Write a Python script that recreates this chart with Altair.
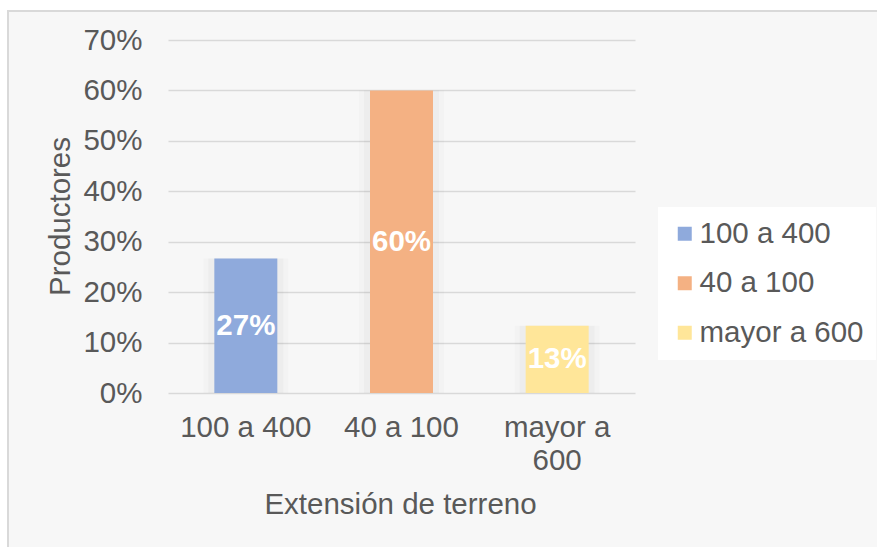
import altair as alt
import pandas as pd

categories = ["100 a 400", "40 a 100", "mayor a 600"]
values = [0.2667, 0.60, 0.1333]
bar_labels = ["27%", "60%", "13%"]
colors = ["#8FAADC", "#F4B183", "#FFE699"]

df = pd.DataFrame({"cat": categories, "val": values, "lab": bar_labels})

FONT = "Liberation Sans"
GRAY = "#595959"
FS = 29.5
W, H = 467, 353

one = pd.DataFrame({"a": [0]})
strip_top = alt.Chart(one).mark_rect(fill="#ffffff").encode(
    x=alt.value(-170), x2=alt.value(720), y=alt.value(-45), y2=alt.value(-29)
)
strip_left = alt.Chart(one).mark_rect(fill="#ffffff").encode(
    x=alt.value(-170), x2=alt.value(-160), y=alt.value(-45), y2=alt.value(520)
)
frame = alt.Chart(one).mark_rect(
    fill=None, stroke="#d9d9d9", strokeWidth=2
).encode(
    x=alt.value(-160), x2=alt.value(720), y=alt.value(-29), y2=alt.value(520)
)

xenc = alt.X(
    "cat:N", sort=categories,
    scale=alt.Scale(paddingInner=0, paddingOuter=0),
    axis=alt.Axis(
        title="Extensión de terreno", labelAngle=0, ticks=False, domain=False,
        labelFontSize=FS, labelColor=GRAY, labelFont=FONT, labelPadding=20,
        labelExpr="datum.label == 'mayor a 600' ? ['mayor a', '600'] : datum.label",
        labelLineHeight=33,
        titleFontSize=FS, titleColor=GRAY, titleFont=FONT, titleFontWeight="normal",
        titleX=232, titleY=111, titleBaseline="middle", titleAnchor="middle",
    ),
)

yenc = alt.Y(
    "val:Q",
    scale=alt.Scale(domain=[0, 0.7]),
    axis=alt.Axis(
        title="Productores", format=".0%", values=[0, 0.1, 0.2, 0.3, 0.4, 0.5, 0.6, 0.7],
        ticks=False, domain=False, gridColor="#d9d9d9", gridWidth=1.5,
        labelFontSize=FS, labelColor=GRAY, labelFont=FONT, labelPadding=26,
        titleFontSize=FS, titleColor=GRAY, titleFont=FONT, titleFontWeight="normal",
        titleX=-108, titleY=176, titleBaseline="middle", titleAnchor="middle", titleAngle=-90,
    ),
)

shadow1 = alt.Chart(df).mark_bar(size=85, color="#000000", opacity=0.015).encode(
    x=xenc, y=yenc
)
shadow2 = alt.Chart(df).mark_bar(size=75, color="#000000", opacity=0.025).encode(
    x=xenc, y=yenc
)

bars = alt.Chart(df).mark_bar(size=63).encode(
    x=xenc,
    y=yenc,
    color=alt.Color(
        "cat:N", sort=categories,
        scale=alt.Scale(domain=categories, range=colors),
        legend=alt.Legend(
            title=None, orient="none", legendX=490, legendY=167,
            symbolType="square", symbolSize=196, symbolStrokeWidth=0,
            labelFontSize=FS, labelColor=GRAY, labelFont=FONT, labelLimit=400,
            rowPadding=18.5, fillColor="#ffffff", padding=12, labelOffset=0,
        ),
    ),
)

text = alt.Chart(df).transform_calculate(mid="datum.val / 2").mark_text(
    color="white", fontWeight="bold", fontSize=FS, font=FONT, baseline="middle"
).encode(
    x=alt.X("cat:N", sort=categories),
    y=alt.Y("mid:Q"),
    text="lab:N",
)

chart = alt.layer(strip_top, strip_left, frame, shadow1, shadow2, bars, text).properties(
    width=W, height=H,
    autosize=alt.AutoSizeParams(type="none"),
    padding={"left": 168, "top": 40, "right": 242, "bottom": 154},
    background="#f7f7f7",
).configure_view(stroke=None)

chart.save("out.html", embed_options={"renderer": "svg", "actions": False})
